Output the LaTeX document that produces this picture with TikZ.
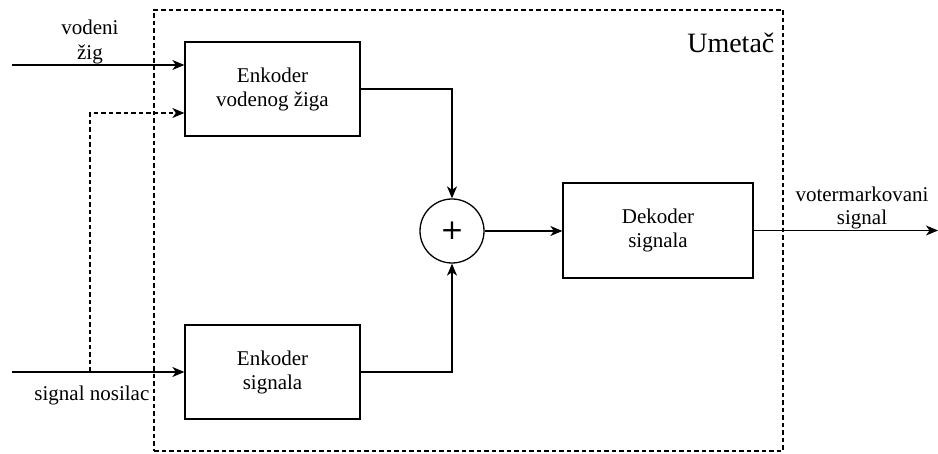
\documentclass[tikz,border=0pt]{standalone}
\usepackage{fontspec}
\setmainfont{Liberation Serif}
\newfontfamily\tnr{Liberation Serif}
\newfontfamily\plusfont{DejaVu Sans}
\usetikzlibrary{arrows.meta,calc}
\begin{document}
\begin{tikzpicture}[x=1pt,y=-1pt,
  line width=1.3pt,
  every node/.style={font=\tnr\fontsize{21}{24}\selectfont},
  blk/.style={draw, rectangle, inner sep=0pt, align=center},
  lbl/.style={inner sep=0pt, align=center},
  arr/.style={-{Stealth[length=12pt,width=10pt,inset=3.5pt]}},
  dsh/.style={dash pattern=on 4.5pt off 3pt, line width=1.2pt}]
\useasboundingbox (0,0) rectangle (938,454);
% outer dashed box
\node[draw, dsh, rectangle, minimum width=629pt, minimum height=441pt, inner sep=0pt] (umet) at (468.5,230.5) {};
\node[lbl, font=\tnr\fontsize{28}{30}\selectfont, anchor=base east] (umlbl) at (775,53) {Umetač};
% blocks
\node[blk, minimum width=175pt, minimum height=94pt] (evz) at (272.5,89) {Enkoder\\vodenog žiga};
\node[blk, minimum width=175pt, minimum height=94pt] (es) at (272.5,372) {Enkoder\\signala};
\node[blk, minimum width=190pt, minimum height=95pt] (dek) at (658,230.5) {Dekoder\\signala};
\node[draw, circle, minimum size=64pt, inner sep=0pt, font=\plusfont\fontsize{28}{28}\selectfont] (sum) at (452,231) {+};
% coordinates
\coordinate (in1) at (12,65);
\coordinate (in2) at (12,372);
\coordinate (br) at (90,372);
\coordinate (tap) at (90,113);
\coordinate (out) at (938,230.5);
% labels
\node[lbl, anchor=base] (l1) at (90,35) {vodeni};
\node[lbl, anchor=base] (l1b) at (90,60) {žig};
\node[lbl, anchor=base east] (l2) at (150,401) {signal nosilac};
\node[lbl, anchor=base] (l3) at (862,202) {votermarkovani};
\node[lbl, anchor=base] (l3b) at (862,225) {signal};
% connectors
\draw[arr] (in1) -- (in1 -| evz.west);
\draw[arr] (in2) -- (es.west);
\draw[arr, dsh] (br) -- (tap) -- (tap -| evz.west);
\draw[arr] (evz.east) -| (sum.north);
\draw[arr] (es.east) -| (sum.south);
\draw[arr] (sum.east) -- (sum.east -| dek.west);
\draw[arr] (dek.east) -- (out);
\end{tikzpicture}
\end{document}
